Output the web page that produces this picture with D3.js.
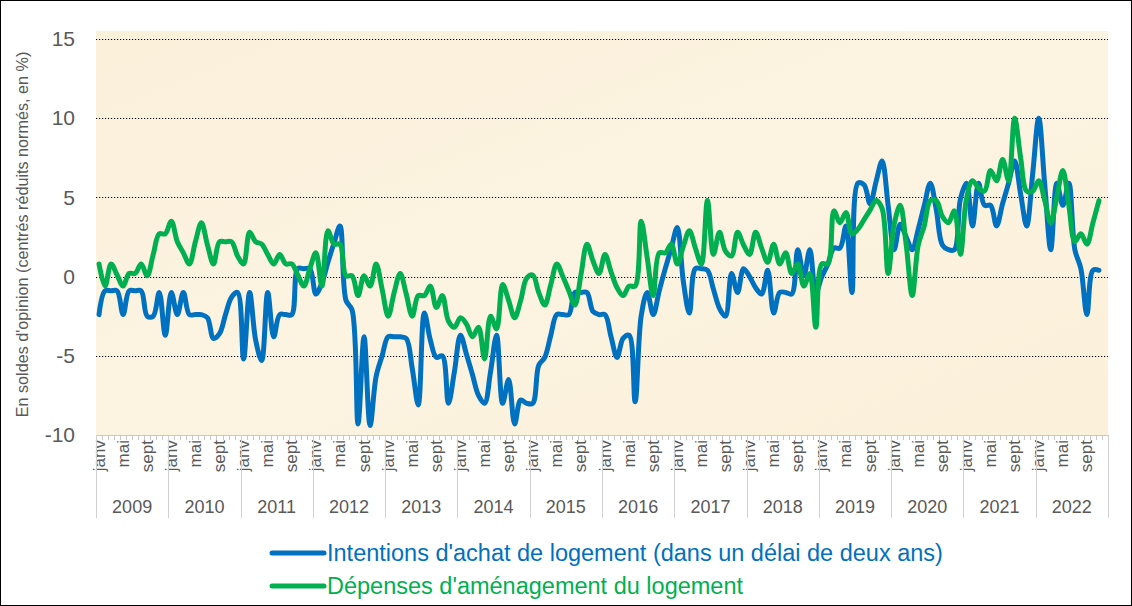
<!DOCTYPE html>
<html>
<head>
<meta charset="utf-8">
<script src="https://cdn.jsdelivr.net/npm/d3@7"></script>
<style>
  html, body { margin: 0; padding: 0; background: #ffffff; }
  svg { display: block; font-family: "Liberation Sans", Arial, sans-serif; }
</style>
</head>
<body>
<svg id="chart" width="1132" height="606"></svg>
<script>
// ---------- data ----------
const years = [2009, 2010, 2011, 2012, 2013, 2014, 2015, 2016, 2017, 2018, 2019, 2020, 2021, 2022];
const monthNames = ["janv", "févr", "mars", "avr", "mai", "juin", "juil", "août", "sept", "oct", "nov", "déc"];
const shownMonths = ["janv", "mai", "sept"];
const yTicks = [-10, -5, 0, 5, 10, 15];
const gridValues = [-5, 0, 5, 10, 15];

const seriesNames = [
  "Intentions d'achat de logement (dans un délai de deux ans)",
  "Dépenses d'aménagement du logement"
];

// Intentions d'achat de logement (janv 2009 -> nov 2022)
const intentions = [
  -2.4, -0.9, -0.9, -0.9, -2.4, -0.9, -0.9, -0.9, -2.5, -2.5,
  -1.0, -3.7, -1.0, -2.4, -1.0, -2.4, -2.4, -2.4, -2.6, -3.9,
  -3.6, -2.4, -1.3, -1.0, -5.2, -1.0, -4.0, -5.3, -1.0, -3.8,
  -2.4, -2.4, -2.4, 0.5, 0.5, 0.5, -1.1, -0.4, 0.9, 2.1,
  3.2, -1.5, -2.1, -9.3, -3.8, -9.4, -6.3, -5.0, -3.8, -3.8,
  -3.8, -3.9, -5.8, -8.1, -2.3, -4.0, -5.1, -5.0, -8.0, -6.0,
  -3.7, -4.9, -6.2, -7.5, -8.0, -6.0, -3.7, -8.0, -6.5, -9.3,
  -7.8, -8.0, -8.0, -5.6, -5.1, -3.7, -2.4, -2.4, -2.4, -1.0,
  -1.0, -1.0, -2.2, -2.4, -2.4, -3.8, -5.1, -3.9, -3.7, -7.9,
  -2.5, -1.0, -2.4, -0.9, 0.5, 1.8, 3.1, -0.3, -2.3, 0.5,
  0.5, 0.4, -0.8, -2.0, -2.5, 0.2, -1.0, 0.5, 0.0, -0.7,
  -1.1, 0.4, -2.3, -1.0, -1.0, -1.1, 1.7, 0.05, 1.7, -1.0,
  0.0, 0.8, 1.8, 1.8, 3.2, -1.0, 5.9, 5.8, 4.6, 6.0,
  7.3, 4.5, 1.7, 3.3, 2.5, 1.7, 3.0, 4.5, 5.9, 4.2,
  2.0, 1.7, 1.7, 4.9, 5.9, 3.2, 5.9, 4.5, 4.5, 3.2,
  4.6, 5.9, 7.3, 5.2, 3.2, 6.5, 10.0, 5.8, 1.7, 5.9,
  4.5, 5.9, 1.7, 0.5, -2.4, 0.4, 0.4
];

// Dépenses d'aménagement du logement (janv 2009 -> nov 2022)
const amenagement = [
  0.8, -0.6, 0.8, 0.1, -0.6, 0.2, 0.2, 0.8, 0.05, 1.4,
  2.7, 2.7, 3.5, 2.2, 1.5, 0.8, 2.2, 3.4, 2.0, 0.8,
  2.2, 2.2, 2.2, 1.3, 0.8, 2.8, 2.2, 2.05, 1.4, 0.8,
  1.4, 0.8, 0.8, 0.1, -0.6, 0.5, 1.5, -0.6, 2.9, 2.05,
  2.05, 0.05, 0.05, -1.2, 0.05, -0.6, 0.8, -0.8, -2.5, -1.0,
  0.2, -1.1, -2.5, -1.2, -1.2, -0.6, -1.95, -1.2, -2.8, -3.2,
  -2.6, -3.0, -3.8, -3.2, -5.2, -2.5, -3.3, -0.5, -1.5, -2.6,
  -1.5, -0.1, 0.1, -1.0, -1.8, -0.5, 0.8, 0.0, -0.9, -1.8,
  0.1, 2.05, 1.0, 0.2, 1.4, 0.3, -0.7, -1.2, -0.6, -0.6,
  3.5, 1.2, -1.2, 1.5, 1.5, 2.05, 0.8, 1.9, 2.9, 1.8,
  0.8, 4.8, 1.4, 2.8, 1.6, 1.3, 2.8, 2.0, 1.4, 2.8,
  1.8, 0.9, 2.05, 0.8, 1.5, 0.2, 0.8, -0.6, 0.2, -3.2,
  0.8, 0.8, 4.15, 3.4, 4.05, 2.7, 3.0, 3.6, 4.2, 4.8,
  4.3, 0.2, 3.3, 4.5, 2.0, -1.2, 2.0, 3.2, 4.8, 4.8,
  3.8, 3.4, 4.15, 1.4, 4.9, 6.05, 5.6, 5.4, 6.7, 6.05,
  7.4, 6.05, 10.0, 7.5, 5.4, 5.4, 6.05, 4.8, 3.4, 5.0,
  6.7, 4.5, 2.2, 2.7, 2.05, 3.4, 4.8
];

// ---------- layout ----------
const W = 1132, H = 606;
const plot = { left: 96, right: 1108, top: 39, bottom: 435 };
const colors = { blue: "#0070C0", green: "#00B050", text: "#595959" };

const svg = d3.select("#chart");

// categories: every month of every year
const categories = [];
years.forEach(y => monthNames.forEach((m, mi) => categories.push({ key: y + "-" + mi, year: y, month: m, mi })));

const x = d3.scaleBand().domain(categories.map(c => c.key)).range([plot.left, plot.right]).padding(0);
const y = d3.scaleLinear().domain([-10, 15]).range([plot.bottom, plot.top]);
const cx = k => x(k) + x.bandwidth() / 2;

// outer border
svg.append("rect").attr("x", 0.5).attr("y", 0.5).attr("width", W - 1).attr("height", H - 1)
  .attr("fill", "#ffffff").attr("stroke", "#000").attr("stroke-width", 1);

// plot background with subtle texture
const defs = svg.append("defs");
const grad = defs.append("linearGradient").attr("id", "bgGrad").attr("x1", 0).attr("y1", 0).attr("x2", 1).attr("y2", 1);
grad.append("stop").attr("offset", "0%").attr("stop-color", "#FBF0DA");
grad.append("stop").attr("offset", "50%").attr("stop-color", "#FCF3E1");
grad.append("stop").attr("offset", "100%").attr("stop-color", "#FBF0D9");
svg.append("rect").attr("x", plot.left).attr("y", 31).attr("width", plot.right - plot.left)
  .attr("height", plot.bottom - 31).attr("fill", "url(#bgGrad)");

// gridlines
svg.append("g").selectAll("line").data(gridValues).join("line")
  .attr("x1", plot.left).attr("x2", plot.right)
  .attr("y1", d => Math.round(y(d)) + 0.5).attr("y2", d => Math.round(y(d)) + 0.5)
  .attr("stroke", "#000").attr("stroke-width", 1).attr("stroke-dasharray", "1.2,1.8");

// y axis labels
const yAxis = d3.axisLeft(y).tickValues(yTicks).tickSize(0).tickPadding(21).tickFormat(d => String(d));
const gy = svg.append("g").attr("transform", `translate(${plot.left},0)`).call(yAxis);
gy.select(".domain").remove();
gy.selectAll("text").attr("font-size", 21).attr("fill", colors.text)
  .attr("font-family", '"Liberation Sans", Arial, sans-serif');

// y axis title
svg.append("text")
  .attr("transform", `translate(22,${(52 + 417) / 2}) rotate(-90)`)
  .attr("text-anchor", "middle").attr("dominant-baseline", "central")
  .attr("font-size", 16.2).attr("fill", colors.text)
  .text("En soldes d'opinion (centrés réduits normés, en %)");

// x axis: base line with monthly ticks
const xAxisG = svg.append("g");
xAxisG.append("line").attr("x1", plot.left).attr("x2", plot.right)
  .attr("y1", plot.bottom + 0.5).attr("y2", plot.bottom + 0.5).attr("stroke", "#C8C8C8");
xAxisG.selectAll("line.tick").data(categories).join("line").attr("class", "tick")
  .attr("x1", d => Math.round(x(d.key)) + 0.5).attr("x2", d => Math.round(x(d.key)) + 0.5)
  .attr("y1", plot.bottom).attr("y2", plot.bottom + 5).attr("stroke", "#C8C8C8");

// month labels
xAxisG.selectAll("text.month").data(categories.filter(c => shownMonths.includes(c.month))).join("text")
  .attr("class", "month")
  .attr("transform", d => `translate(${cx(d.key)},${plot.bottom + 5}) rotate(-90)`)
  .attr("text-anchor", "end").attr("dominant-baseline", "central")
  .attr("font-size", 17).attr("fill", colors.text).text(d => d.month);

// year separators and labels
const yearStart = yr => x(yr + "-0");
const yearEnd = yr => x(yr + "-11") + x.bandwidth();
const sepXs = years.map(yearStart).concat([yearEnd(years[years.length - 1])]);
xAxisG.selectAll("line.sep").data(sepXs).join("line").attr("class", "sep")
  .attr("x1", d => Math.round(d) + 0.5).attr("x2", d => Math.round(d) + 0.5)
  .attr("y1", plot.bottom).attr("y2", 518).attr("stroke", "#D0D0D0");
xAxisG.selectAll("text.year").data(years).join("text").attr("class", "year")
  .attr("x", d => (yearStart(d) + yearEnd(d)) / 2).attr("y", 507)
  .attr("text-anchor", "middle").attr("dominant-baseline", "central")
  .attr("font-size", 18).attr("fill", colors.text).text(d => d);

// lines
const line = d3.line()
  .x((d, i) => cx(categories[i].key))
  .y(d => y(d))
  .curve(d3.curveCatmullRom.alpha(0.5));

svg.append("path").datum(intentions).attr("d", line)
  .attr("fill", "none").attr("stroke", colors.blue).attr("stroke-width", 5)
  .attr("stroke-linejoin", "round").attr("stroke-linecap", "round");
svg.append("path").datum(amenagement).attr("d", line)
  .attr("fill", "none").attr("stroke", colors.green).attr("stroke-width", 5)
  .attr("stroke-linejoin", "round").attr("stroke-linecap", "round");

// legend
const legend = svg.append("g");
const legendItems = [
  { name: seriesNames[0], color: colors.blue, y: 553 },
  { name: seriesNames[1], color: colors.green, y: 586 }
];
legendItems.forEach(it => {
  legend.append("line").attr("x1", 272).attr("x2", 324).attr("y1", it.y).attr("y2", it.y)
    .attr("stroke", it.color).attr("stroke-width", 5).attr("stroke-linecap", "round");
  legend.append("text").attr("x", 327).attr("y", it.y).attr("dominant-baseline", "central")
    .attr("font-size", 23.5).attr("fill", it.color).text(it.name);
});
</script>
</body>
</html>
